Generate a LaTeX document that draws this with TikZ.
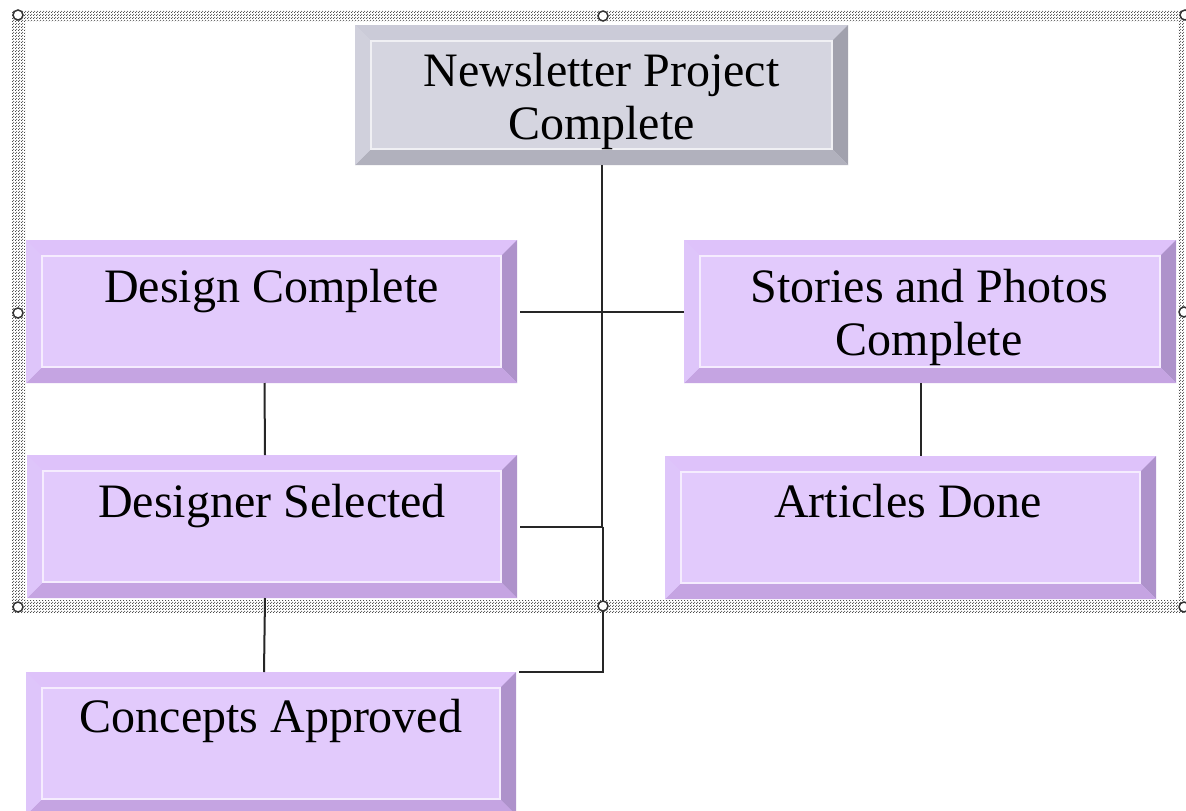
\documentclass[tikz,border=0pt]{standalone}
\usepackage{fontspec}
\setmainfont{Liberation Serif}
\usetikzlibrary{patterns,calc}
\pgfdeclarepatternformonly{framedots}{\pgfpointorigin}{\pgfqpoint{3pt}{3pt}}{\pgfqpoint{3pt}{3pt}}{%
  \pgfpathcircle{\pgfqpoint{0.75pt}{0.75pt}}{0.72pt}%
  \pgfpathcircle{\pgfqpoint{2.25pt}{2.25pt}}{0.72pt}%
  \pgfusepath{fill}}
\definecolor{pface}{HTML}{E2CAFC}
\definecolor{ptop}{HTML}{DEC2FA}
\definecolor{pleft}{HTML}{DEC5FA}
\definecolor{pright}{HTML}{AE92CB}
\definecolor{pbot}{HTML}{C5A4E2}
\definecolor{gface}{HTML}{D5D5E0}
\definecolor{gtop}{HTML}{CBCBD8}
\definecolor{gleft}{HTML}{D0D0DC}
\definecolor{gright}{HTML}{A1A1AD}
\definecolor{gbot}{HTML}{B1B1BD}
\definecolor{linecol}{HTML}{262626}
\definecolor{dotcol}{HTML}{3A3A3A}
\newcommand\bevelfill[5]{%
  \coordinate (bNW) at (path picture bounding box.north west);
  \coordinate (bSE) at (path picture bounding box.south east);
  \coordinate (bNE) at (path picture bounding box.north east);
  \coordinate (bSW) at (path picture bounding box.south west);
  \fill[#1] (bNW) -- (bNE) -- ([shift={(-16pt,-16pt)}]bNE) -- ([shift={(16pt,-16pt)}]bNW) -- cycle;
  \fill[#3] (bNE) -- (bSE) -- ([shift={(-16pt,16pt)}]bSE) -- ([shift={(-16pt,-16pt)}]bNE) -- cycle;
  \fill[#4] (bSE) -- (bSW) -- ([shift={(16pt,16pt)}]bSW) -- ([shift={(-16pt,16pt)}]bSE) -- cycle;
  \fill[#2] (bSW) -- (bNW) -- ([shift={(16pt,-16pt)}]bNW) -- ([shift={(16pt,16pt)}]bSW) -- cycle;
  \draw[#5!35!white, line width=1.2pt] ([shift={(16pt,-16pt)}]bNW) rectangle ([shift={(-16pt,16pt)}]bSE);
}
\tikzset{
  boxbase/.style={inner sep=0pt, outer sep=0pt, minimum height=143pt},
  pbox/.style={boxbase, fill=pface, path picture={\bevelfill{ptop}{pleft}{pright}{pbot}{pface}}},
  gbox/.style={boxbase, fill=gface, minimum height=140pt, path picture={\bevelfill{gtop}{gleft}{gright}{gbot}{gface}}},
  lbl/.style={anchor=base, font=\fontsize{48}{53}\selectfont, inner sep=0pt},
  conn/.style={draw=linecol, line width=2pt},
  handle/.style={circle, draw=black!80, fill=white, line width=1.5pt, minimum size=10pt, inner sep=0pt},
}
\begin{document}
\begin{tikzpicture}[x=1pt,y=-1pt]
\useasboundingbox (0,0) rectangle (1186,811);
\fill[white] (0,0) rectangle (1186,811);
% selection frame band
\fill[pattern=framedots, pattern color=dotcol, even odd rule]
  (12,10) rectangle (1184,613) (25,21) rectangle (1178,600);
% boxes
\node[gbox, minimum width=493pt] (np) at (601.5,95) {};
\node[pbox, minimum width=491pt] (dc) at (271.5,311.5) {};
\node[pbox, minimum width=492pt] (sp) at (930,311.5) {};
\node[pbox, minimum width=490pt] (ds) at (272,526.5) {};
\node[pbox, minimum width=491pt] (ad) at (910.5,527.5) {};
\node[pbox, minimum width=490pt] (ca) at (271,743.5) {};
% labels
\node[lbl] (npt) at (601.5,86) {\begin{tabular}[t]{@{}c@{}}Newsletter Project\\Complete\end{tabular}};
\node[lbl] (dct) at (271.5,302) {Design Complete};
\node[lbl] (spt) at (929,302) {\begin{tabular}[t]{@{}c@{}}Stories and Photos\\Complete\end{tabular}};
\node[lbl] (dst) at (272,517) {Designer Selected};
\node[lbl] (adt) at (908,517) {Articles Done};
\node[lbl] (cat) at (271,732) {Concepts Approved};
% connectors
\draw[conn] (np.south) -- (np.south |- ds.east) -- ([xshift=3pt]ds.east);
\draw[conn] ([xshift=1.5pt]np.south |- ds.east) -- ([xshift=1.5pt]np.south |- ca.north) -- ([xshift=3pt]ca.north east);
\draw[conn] ([xshift=3pt]dc.east) -- (sp.west);
\draw[conn] ([xshift=-7pt]dc.south) -- ([xshift=-7pt]ds.north);
\draw[conn] ([xshift=-7pt]ds.south) -- ([xshift=-7pt]ca.north);
\draw[conn] ([xshift=-9pt]sp.south) -- ([xshift=-9pt]sp.south |- ad.north);
% handles
\node[handle] (h1) at (18,15) {};
\node[handle] (h2) at (603,16) {};
\node[handle] (h3) at (1185,15) {};
\node[handle] (h4) at (18,313) {};
\node[handle] (h5) at (1184,312) {};
\node[handle] (h6) at (18,607) {};
\node[handle] (h7) at (603,606) {};
\node[handle] (h8) at (1184,607) {};
\end{tikzpicture}
\end{document}
